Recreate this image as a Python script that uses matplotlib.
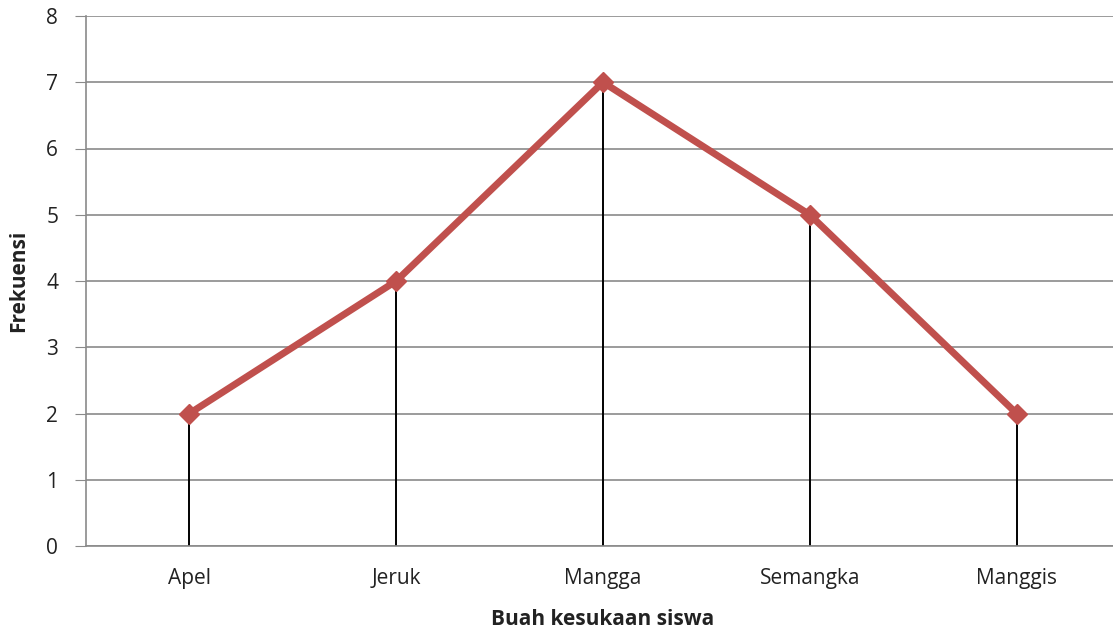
import matplotlib
matplotlib.use('Agg')
import matplotlib.pyplot as plt

fruits = ['Apel', 'Jeruk', 'Mangga', 'Semangka', 'Manggis']
freq = [2, 4, 7, 5, 2]
y_ticks = [0, 1, 2, 3, 4, 5, 6, 7, 8]

plt.rcParams['font.family'] = ['Open Sans', 'DejaVu Sans']

fig = plt.figure(figsize=(11.13, 6.36), dpi=100)
ax = fig.add_axes([86 / 1113, 90 / 636, 1034 / 1113, 530 / 636])

x = list(range(len(fruits)))
ax.vlines(x, 0, freq, colors='black', linewidth=1.4, zorder=2)
ax.plot(x, freq, color='#c0504d', linewidth=5, marker='D', markersize=10,
        markeredgecolor='#c0504d', zorder=3)

ax.set_xlim(-0.5, 4.5)
ax.set_ylim(0, 8)
ax.set_yticks(y_ticks)
ax.set_xticks(x)
ax.set_xticklabels(fruits)
ax.yaxis.grid(True, color='#8a8a8a', linewidth=1.2)
ax.set_axisbelow(True)

for s in ['top', 'right']:
    ax.spines[s].set_visible(False)
ax.spines['left'].set_color('#8a8a8a')
ax.spines['bottom'].set_color('#8a8a8a')
ax.spines['left'].set_linewidth(1.2)
ax.spines['bottom'].set_linewidth(1.2)
ax.tick_params(axis='y', length=8, color='#8a8a8a', labelsize=15, labelcolor='#222222', pad=12)
ax.tick_params(axis='x', length=0, labelsize=15, labelcolor='#222222', pad=16)

ax.set_xlabel('Buah kesukaan siswa', fontsize=15, fontweight='bold', labelpad=14, color='#222222')
ax.set_ylabel('Frekuensi', fontsize=15, fontweight='bold', labelpad=12, color='#222222')

fig.savefig('out.png', dpi=100)
